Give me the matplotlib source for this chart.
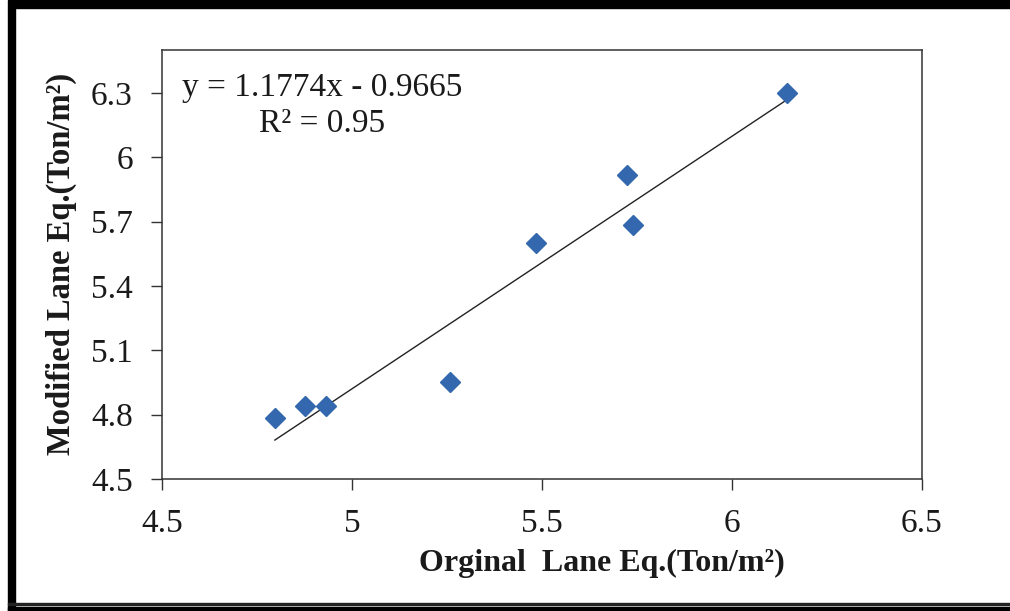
import matplotlib
matplotlib.use("Agg")
import matplotlib.pyplot as plt
import numpy as np
from matplotlib.patches import Rectangle

# Data
original_lane = [4.797, 4.876, 4.932, 5.257, 5.483, 5.723, 5.739, 6.146]
modified_lane = [4.786, 4.842, 4.839, 4.952, 5.600, 5.918, 5.683, 6.298]
slope = 1.1774
intercept = -0.9665
r_squared = 0.95
x_ticks = [4.5, 5, 5.5, 6, 6.5]
x_tick_labels = ["4.5", "5", "5.5", "6", "6.5"]
y_ticks = [4.5, 4.8, 5.1, 5.4, 5.7, 6.0, 6.3]
y_tick_labels = ["4.5", "4.8", "5.1", "5.4", "5.7", "6", "6.3"]

plt.rcParams['font.family'] = ['Liberation Serif', 'DejaVu Serif']

W, H = 1010, 611
fig = plt.figure(figsize=(W / 100, H / 100), dpi=100)
ax = fig.add_axes([162 / W, 1 - 479 / H, (922 - 162) / W, (479 - 50) / H])

ax.plot(original_lane, modified_lane, linestyle='none', marker='D',
        markersize=10.5, color='#3368AE', markeredgecolor='#3368AE', zorder=3)

xs = np.array([min(original_lane), max(original_lane)])
ax.plot(xs, slope * xs + intercept, color='#222222', linewidth=1.0, zorder=2)

ax.set_xlim(4.5, 6.5)
ax.set_ylim(4.5, 6.5)
ax.set_xticks(x_ticks)
ax.set_xticklabels(x_tick_labels)
ax.set_yticks(y_ticks)
ax.set_yticklabels(y_tick_labels)
ax.tick_params(axis='both', direction='out', length=8, width=1.0,
               colors='#333333', labelsize=24, labelcolor='#1a1a1a')
ax.tick_params(axis='y', pad=13)
ax.tick_params(axis='x', pad=13)
for s in ax.spines.values():
    s.set_linewidth(1.1)
    s.set_color('#333333')

eq_text = "y = 1.1774x - 0.9665"
r2_text = "R² = %.2f" % r_squared
fig.text(182 / W, 1 - 88 / H, eq_text, fontsize=24, ha='left', va='center',
         color='#1a1a1a')
fig.text(322 / W, 1 - 124 / H, r2_text, fontsize=24, ha='center', va='center',
         color='#1a1a1a')

fig.text(602 / W, 1 - 563 / H, "Orginal  Lane Eq.(Ton/m²)", fontsize=23,
         fontweight='bold', ha='center', va='center', color='#1a1a1a')
fig.text(61 / W, 1 - 264 / H, "Modified Lane Eq.(Ton/m²)", fontsize=23.5,
         fontweight='bold', ha='center', va='center', rotation=90, color='#1a1a1a')

# Outer frame
fig.patches.append(Rectangle((8 / W, 1 - 8 / H), 1 - 8 / W, 8 / H,
                             transform=fig.transFigure, color='black', zorder=10))
fig.patches.append(Rectangle((8 / W, 0), 7 / W, 1 - 8 / H,
                             transform=fig.transFigure, color='black', zorder=10))
fig.patches.append(Rectangle((8 / W, (611 - 605) / H), 1 - 8 / W, 2 / H,
                             transform=fig.transFigure, color='#222222', zorder=10))
fig.patches.append(Rectangle((8 / W, 0), 1 - 8 / W, 4 / H,
                             transform=fig.transFigure, color='black', zorder=10))

fig.savefig("out.png", dpi=100)
